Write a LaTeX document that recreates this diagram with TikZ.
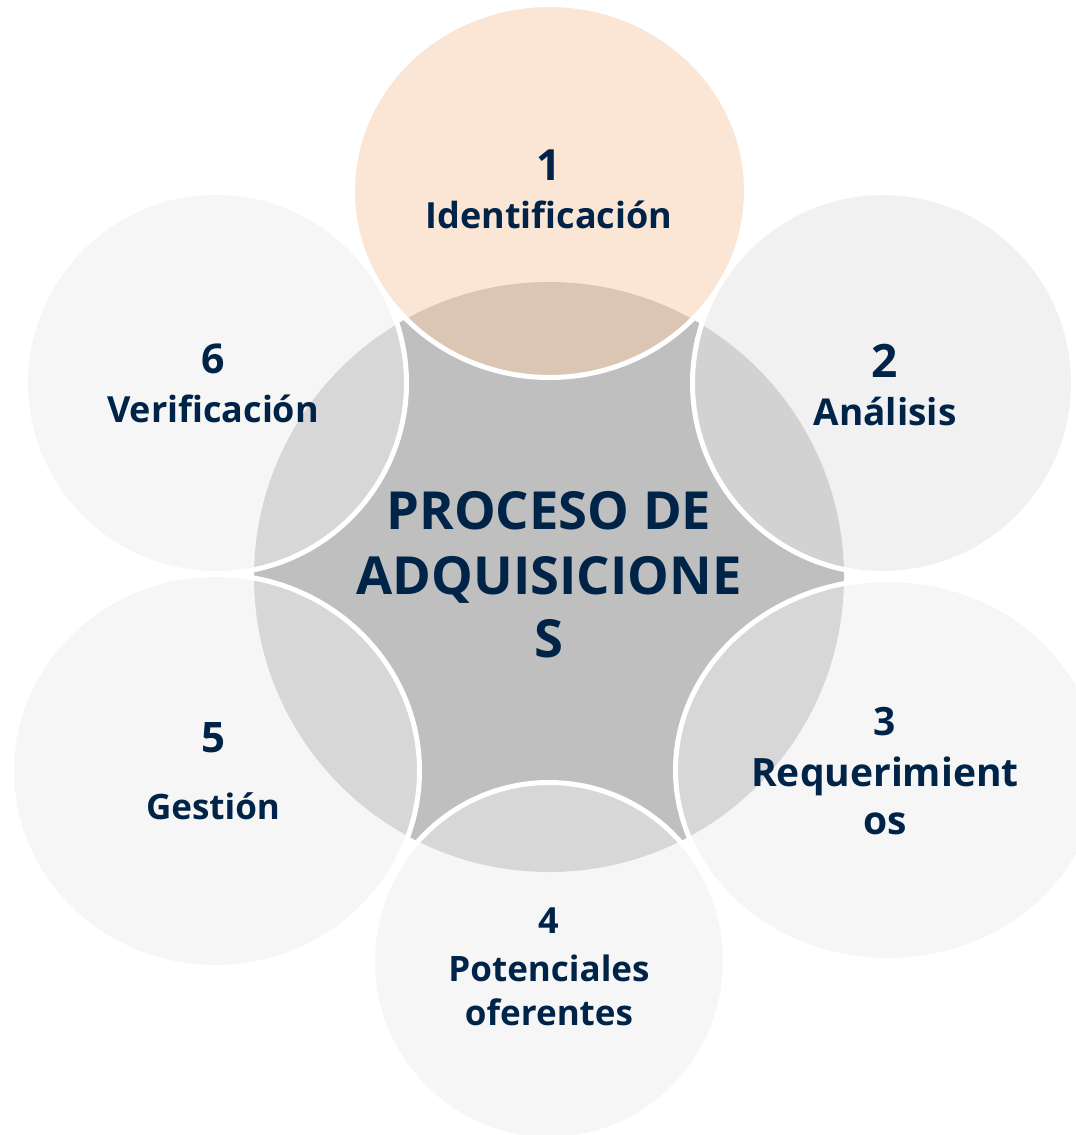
\documentclass[tikz,border=0pt]{standalone}
\usepackage{fontspec}
\setmainfont{Open Sans}
\usetikzlibrary{shapes.geometric}

\definecolor{azul}{RGB}{0,35,72}
\definecolor{gris}{RGB}{191,191,191}
\definecolor{durazno}{RGB}{248,205,170}
\definecolor{perla}{RGB}{229,229,229}
\definecolor{niebla}{RGB}{239,239,239}

\begin{document}
\begin{tikzpicture}[x=1pt, y=-1pt,
        text=azul,
        nucleo/.style={circle, fill=gris, minimum size=590pt, inner sep=0pt},
        etapa/.style={ellipse, draw=white, line width=5pt, fill opacity=.5, inner sep=0pt},
        numero/.style={anchor=base, inner sep=0pt, font=\bfseries\fontsize{#1}{#1}\selectfont},
        rotulo/.style={anchor=base, inner sep=0pt, font=\bfseries\fontsize{#1}{#1}\selectfont},
        titulo/.style={anchor=base, inner sep=0pt, font=\bfseries\fontsize{52.5}{64}\selectfont}
        ]
    % Fondo
    \fill[white] (0,0) rectangle (1076,1135);
    \useasboundingbox (0,0) rectangle (1076,1135);
    \clip (0,0) rectangle (1076,1135);

    % Circulos
    \node[nucleo] (core) at (549,577) {};
    \node[etapa, fill=durazno, minimum width=394pt, minimum height=373pt] (c1) at (549.5,191) {};
    \node[etapa, fill=perla,   minimum width=381pt, minimum height=381pt] (c2) at (883,383) {};
    \node[etapa, fill=niebla,  minimum width=425pt, minimum height=381pt] (c3) at (888,770) {};
    \node[etapa, fill=niebla,  minimum width=353pt, minimum height=357pt] (c4) at (549,961) {};
    \node[etapa, fill=niebla,  minimum width=408pt, minimum height=393pt] (c5) at (215.5,771) {};
    \node[etapa, fill=niebla,  minimum width=381pt, minimum height=381pt] (c6) at (216,383) {};

    % Textos
    \node[titulo] (t1) at (549,529) {PROCESO DE};
    \node[titulo] (t2) at (549,594) {ADQUISICIONE};
    \node[titulo] (t3) at (549,657) {S};

    \node[numero=43] (n1) at (549,180) {1};
    \node[rotulo=36] (l1) at (549,228) {Identificación};
    \node[numero=46] (n2) at (885,377) {2};
    \node[rotulo=37] (l2) at (885,425) {Análisis};
    \node[numero=39] (n3) at (885,735) {3};
    \node[rotulo=39] (l3) at (885,786) {Requerimient};
    \node[rotulo=39] (l3b) at (885,834) {os};
    \node[numero=36] (n4) at (549,933) {4};
    \node[rotulo=35] (l4) at (549,981) {Potenciales};
    \node[rotulo=35] (l4b) at (549,1025) {oferentes};
    \node[numero=42] (n5) at (213,752) {5};
    \node[rotulo=35] (l5) at (213,819) {Gestión};
    \node[numero=41] (n6) at (213,373) {6};
    \node[rotulo=36] (l6) at (213,422) {Verificación};
\end{tikzpicture}
\end{document}
